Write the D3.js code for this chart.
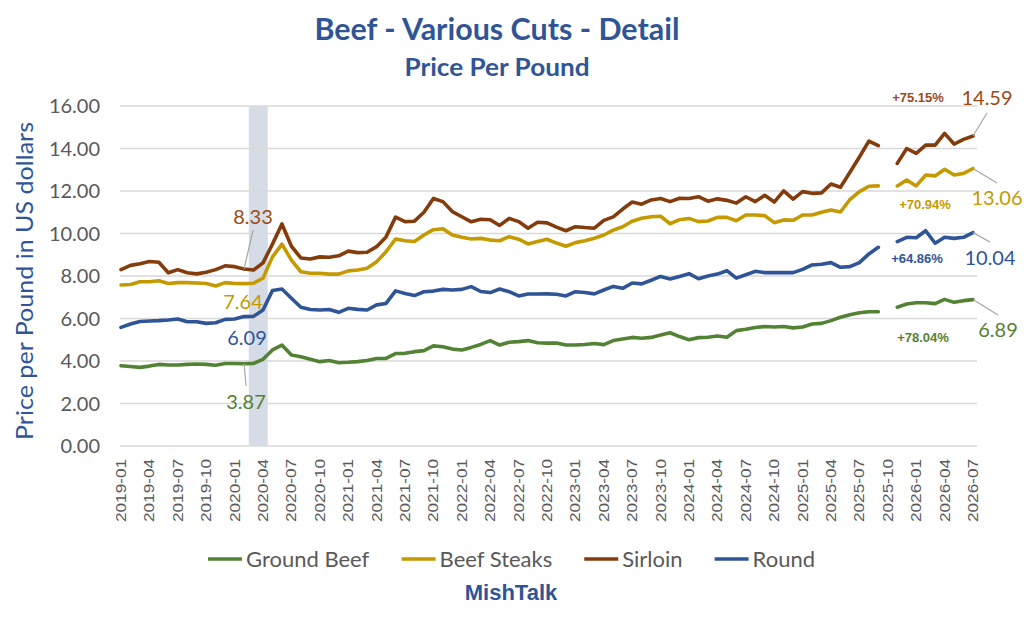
<!DOCTYPE html>
<html><head><meta charset="utf-8">
<script src="https://cdn.jsdelivr.net/npm/d3@7"></script>
<style>body{margin:0;background:#fff}svg{display:block}</style>
</head><body>
<svg id="c" width="1024" height="637"></svg>
<script>
// ---------- DATA ----------
const monthCount = 91; // 2019-01 .. 2026-07
const groundBeef = [3.78,3.74,3.70,3.76,3.84,3.81,3.81,3.84,3.86,3.84,3.80,3.88,3.88,3.87,3.89,4.08,4.52,4.75,4.28,4.20,
  4.08,3.97,4.02,3.92,3.94,3.97,4.02,4.12,4.12,4.35,4.36,4.44,4.49,4.71,4.67,4.56,4.52,4.64,4.78,4.96,
  4.75,4.88,4.91,4.96,4.86,4.84,4.85,4.75,4.75,4.78,4.82,4.77,4.96,5.04,5.11,5.07,5.11,5.22,5.33,5.15,
  5.00,5.10,5.12,5.18,5.12,5.43,5.49,5.58,5.62,5.60,5.62,5.56,5.60,5.74,5.77,5.90,6.06,6.18,6.27,6.32,
  6.32,null,6.53,6.68,6.74,6.74,6.70,6.90,6.76,6.84,6.89];
const beefSteaks = [7.58,7.60,7.73,7.73,7.78,7.65,7.69,7.69,7.67,7.65,7.53,7.69,7.65,7.64,7.66,7.90,8.90,9.50,8.75,8.20,
  8.13,8.13,8.09,8.09,8.24,8.28,8.36,8.67,9.14,9.74,9.66,9.62,9.93,10.18,10.22,9.93,9.82,9.74,9.77,9.69,
  9.66,9.85,9.73,9.51,9.62,9.73,9.55,9.40,9.57,9.66,9.78,9.93,10.16,10.32,10.58,10.72,10.79,10.81,10.46,10.65,
  10.71,10.56,10.59,10.76,10.76,10.60,10.87,10.87,10.84,10.51,10.64,10.62,10.87,10.87,11.00,11.11,11.01,11.60,11.97,12.22,
  12.24,null,12.24,12.52,12.24,12.75,12.71,13.02,12.75,12.83,13.06];
const sirloin = [8.30,8.50,8.58,8.68,8.65,8.15,8.30,8.15,8.10,8.18,8.30,8.48,8.44,8.33,8.28,8.62,9.50,10.45,9.40,8.85,
  8.80,8.90,8.88,8.95,9.17,9.10,9.12,9.38,9.84,10.77,10.56,10.58,11.00,11.65,11.50,11.03,10.79,10.55,10.67,10.65,
  10.38,10.71,10.56,10.25,10.53,10.50,10.30,10.13,10.32,10.28,10.25,10.62,10.78,11.15,11.48,11.38,11.58,11.65,11.50,11.66,
  11.65,11.73,11.52,11.63,11.56,11.43,11.73,11.50,11.80,11.48,12.01,11.62,11.97,11.89,11.91,12.33,12.18,12.88,13.60,14.35,
  14.13,null,13.30,14.00,13.77,14.16,14.16,14.71,14.21,14.43,14.59];
const round = [5.58,5.74,5.86,5.88,5.90,5.93,5.98,5.85,5.85,5.77,5.80,5.96,5.98,6.09,6.10,6.40,7.32,7.39,6.95,6.53,
  6.42,6.40,6.42,6.29,6.48,6.43,6.40,6.64,6.71,7.30,7.18,7.08,7.26,7.29,7.37,7.34,7.37,7.50,7.27,7.22,
  7.39,7.26,7.06,7.15,7.15,7.16,7.14,7.06,7.26,7.22,7.16,7.34,7.51,7.42,7.67,7.63,7.80,7.98,7.86,7.98,
  8.11,7.87,8.00,8.09,8.25,7.90,8.06,8.22,8.16,8.16,8.16,8.16,8.31,8.52,8.55,8.63,8.41,8.44,8.63,9.04,
  9.35,null,9.62,9.82,9.80,10.13,9.54,9.82,9.77,9.82,10.04];
const seriesNames = ["Ground Beef","Beef Steaks","Sirloin","Round"];
const seriesColors = ["#548235","#C49A00","#843C0C","#2F5597"];
const seriesValues = [groundBeef, beefSteaks, sirloin, round];
const yTicks = [0,2,4,6,8,10,12,14,16];
const shadedMonths = ["2020-03","2020-04"];
const baseMonth = "2020-02";
const endMonth = "2026-07";
const pctLabels = ["+78.04%","+70.94%","+75.15%","+64.86%"];

// ---------- SETUP ----------
const fmtM = d3.utcFormat("%Y-%m");
const monthLabels = d3.range(monthCount).map(i => fmtM(d3.utcMonth.offset(new Date(Date.UTC(2019,0,1)), i)));
const xTickLabels = monthLabels.filter((m,i) => i % 3 === 0);

const svg = d3.select("#c");
const W = 1024, H = 637;
svg.append("rect").attr("width",W).attr("height",H).attr("fill","#fff");

const x = d3.scalePoint().domain(monthLabels).range([121, 973]);
const step = x.step();
const y = d3.scaleLinear().domain([0,16]).range([446,106]);

const calibri = "Lato, 'Open Sans', sans-serif";
const arial = "'Liberation Sans', Arial, sans-serif";
const grey = "#595959";

// shaded band
svg.append("rect")
  .attr("x", x(shadedMonths[0]) - step/2)
  .attr("width", x(shadedMonths[shadedMonths.length-1]) - x(shadedMonths[0]) + step)
  .attr("y", y(16)).attr("height", y(0)-y(16))
  .attr("fill","#D6DCE5");

// gridlines
svg.append("g").selectAll("line").data(yTicks).join("line")
  .attr("x1",120).attr("x2",977)
  .attr("y1",d=>y(d)).attr("y2",d=>y(d))
  .attr("stroke","#D9D9D9").attr("stroke-width",1.5);

// y tick labels
svg.append("g").selectAll("text").data(yTicks).join("text")
  .attr("x",100).attr("y",d=>y(d)+7)
  .attr("text-anchor","end")
  .attr("font-family",calibri).attr("font-size",20).attr("fill",grey)
  .text(d=>d3.format(".2f")(d));

// x tick labels
svg.append("g").selectAll("text").data(xTickLabels).join("text")
  .attr("transform",d=>`translate(${x(d)+5},459) rotate(-90)`)
  .attr("text-anchor","end")
  .attr("font-family",arial).attr("font-size",15.5).attr("fill",grey)
  .attr("textLength",63).attr("lengthAdjust","spacingAndGlyphs")
  .text(d=>d);

// lines
const line = d3.line()
  .defined(d=>d.v!=null)
  .x(d=>x(d.m)).y(d=>y(d.v));
seriesValues.forEach((vals,k)=>{
  svg.append("path")
    .datum(vals.map((v,i)=>({m:monthLabels[i], v})))
    .attr("fill","none").attr("stroke",seriesColors[k])
    .attr("stroke-width",3.6).attr("stroke-linejoin","round").attr("stroke-linecap","round")
    .attr("d",line);
});

// data labels
const bi = monthLabels.indexOf(baseMonth), ei = monthLabels.indexOf(endMonth);
const lab = svg.append("g");
function leader(x1,y1,x2,y2){
  lab.append("line").attr("x1",x1).attr("y1",y1).attr("x2",x2).attr("y2",y2)
    .attr("stroke","#A6A6A6").attr("stroke-width",1.2);
}
function valText(t,cx,cy,col){
  lab.append("text").attr("x",cx).attr("y",cy+7).attr("text-anchor","middle")
    .attr("font-family",calibri).attr("font-size",20).attr("fill",col).text(t);
}
function pctText(t,cx,cy,col){
  lab.append("text").attr("x",cx).attr("y",cy+4.7).attr("text-anchor","middle")
    .attr("font-family",arial).attr("font-weight","bold").attr("font-size",13).attr("fill",col).text(t);
}
const fmt2 = d3.format(".2f");
leader(x(baseMonth), y(sirloin[bi]), x(baseMonth)+9, 230);
valText(fmt2(sirloin[bi]), 253, 217, "#9C4A17");
valText(fmt2(beefSteaks[bi]), 243, 302, seriesColors[1]);
valText(fmt2(round[bi]), 247, 338, seriesColors[3]);
leader(x(baseMonth), y(groundBeef[bi]), x(baseMonth)+2, 386);
valText(fmt2(groundBeef[bi]), 246, 402, seriesColors[0]);
const xe = x(endMonth);
leader(xe, y(sirloin[ei]), 987, 113);
valText(fmt2(sirloin[ei]), 987, 98, "#9C4A17");
leader(xe, y(beefSteaks[ei]), 997, 183);
valText(fmt2(beefSteaks[ei]), 997, 198, seriesColors[1]);
leader(xe, y(round[ei]), 990, 242);
valText(fmt2(round[ei]), 990, 258, seriesColors[3]);
leader(xe, y(groundBeef[ei]), 998, 315);
valText(fmt2(groundBeef[ei]), 998, 330, seriesColors[0]);
pctText(pctLabels[2], 918, 97, "#9C4A17");
pctText(pctLabels[1], 925, 204, seriesColors[1]);
pctText(pctLabels[3], 917, 258, seriesColors[3]);
pctText(pctLabels[0], 923, 337, seriesColors[0]);

// titles
svg.append("text").attr("x",497).attr("y",40).attr("text-anchor","middle")
  .attr("font-family",calibri).attr("font-weight","bold").attr("font-size",30)
  .attr("fill","#2F5597").attr("textLength",365).attr("lengthAdjust","spacingAndGlyphs")
  .text("Beef - Various Cuts - Detail");
svg.append("text").attr("x",497).attr("y",76).attr("text-anchor","middle")
  .attr("font-family",calibri).attr("font-weight","bold").attr("font-size",24)
  .attr("fill","#2F5597").attr("textLength",185).attr("lengthAdjust","spacingAndGlyphs")
  .text("Price Per Pound");

// y-axis title
svg.append("text").attr("transform","translate(33,281) rotate(-90)")
  .attr("text-anchor","middle").attr("font-family",calibri).attr("font-size",23)
  .attr("fill","#2F5597").attr("textLength",318).attr("lengthAdjust","spacingAndGlyphs")
  .text("Price per Pound in US dollars");

// legend
const lg = svg.append("g");
const items = seriesNames.map((n,k)=>({n, c:seriesColors[k]}));
const gs = lg.selectAll("g").data(items).join("g");
gs.append("line").attr("x1",0).attr("x2",34).attr("y1",0).attr("y2",0)
  .attr("stroke",d=>d.c).attr("stroke-width",3.6);
gs.append("text").attr("x",38).attr("y",8)
  .attr("font-family",calibri).attr("font-size",22).attr("fill",grey).text(d=>d.n);
let widths = [];
gs.each(function(){ widths.push(this.getBBox().width); });
const gap = 32;
const total = d3.sum(widths) + gap*(widths.length-1);
let cx = 511.5 - total/2;
gs.each(function(d,i){ d3.select(this).attr("transform",`translate(${cx},559)`); cx += widths[i]+gap; });

svg.append("text").attr("x",511).attr("y",600).attr("text-anchor","middle")
  .attr("font-family",arial).attr("font-weight","bold").attr("font-size",22)
  .attr("fill","#2F5597").text("MishTalk");
</script>
</body></html>
